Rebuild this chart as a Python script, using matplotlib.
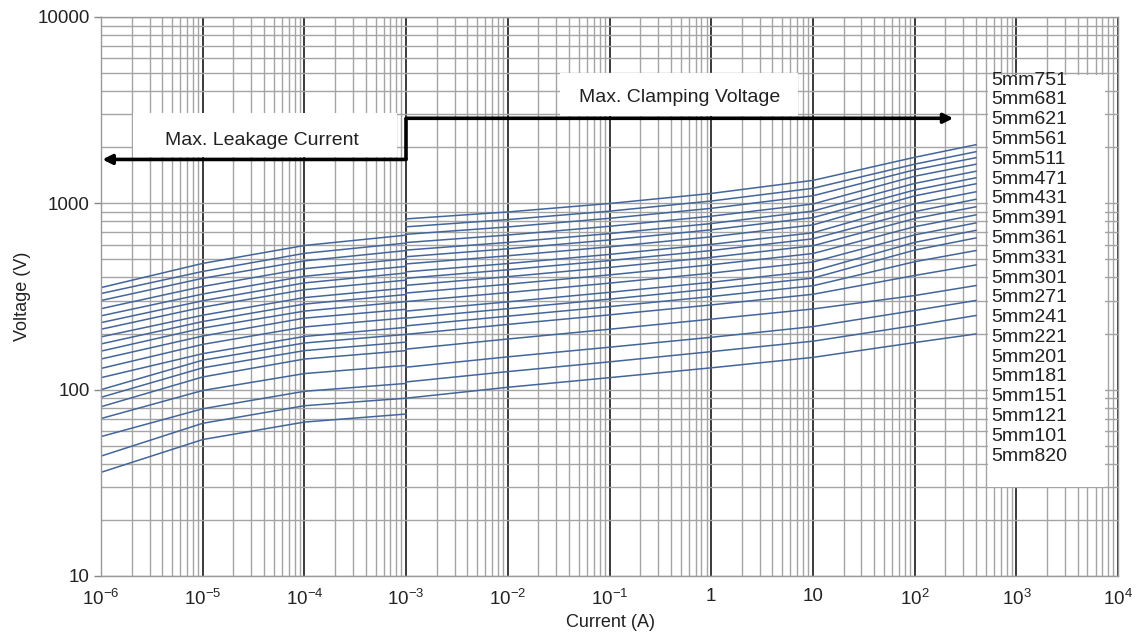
"""
Varistor V-I characteristic curves (5mm series), log-log chart.
"""

import matplotlib
matplotlib.use("Agg")
import matplotlib.pyplot as plt
from matplotlib.patches import Rectangle
from matplotlib.ticker import FixedLocator, LogLocator, NullFormatter

plt.rcParams["font.family"] = ["Liberation Sans", "DejaVu Sans"]

# Part names, bottom curve first
part_names = ["5mm820", "5mm101", "5mm121", "5mm151", "5mm181", "5mm201",
              "5mm221", "5mm241", "5mm271", "5mm301", "5mm331", "5mm361",
              "5mm391", "5mm431", "5mm471", "5mm511", "5mm561", "5mm621",
              "5mm681", "5mm751"]

# Max. leakage current region (A) and voltages (V) per part
leak_current = [1e-6, 1e-5, 1e-4, 1e-3]
leak_voltage = [
    [36, 54, 67, 74],
    [44, 66, 82, 90],
    [56, 79, 98, 108],
    [70, 99, 122, 135],
    [81, 117, 146, 162],
    [91, 131, 162, 180],
    [100, 144, 178, 198],
    [116, 156, 193, 216],
    [130, 175, 217, 243],
    [146, 194, 242, 270],
    [161, 214, 264, 297],
    [176, 232, 288, 324],
    [192, 251, 312, 351],
    [211, 277, 344, 387],
    [229, 300, 374, 423],
    [249, 326, 406, 459],
    [272, 358, 446, 504],
    [301, 396, 491, 558],
    [328, 431, 539, 612],
    [353, 476, 594, 675],
]

# Max. clamping voltage region (A) and voltages (V) per part
clamp_current = [1e-3, 1e-2, 1e-1, 1, 10, 100, 400]
clamp_voltage = [
    [90, 103, 116, 131, 149, 179, 199],
    [110, 125, 141, 160, 182, 221, 250],
    [132, 150, 169, 191, 218, 266, 301],
    [165, 187, 211, 239, 271, 320, 362],
    [198, 224, 252, 285, 325, 410, 467],
    [220, 248, 279, 316, 361, 486, 558],
    [242, 272, 306, 347, 397, 561, 652],
    [264, 296, 333, 377, 433, 617, 716],
    [297, 332, 373, 422, 484, 677, 785],
    [330, 368, 413, 468, 538, 749, 867],
    [363, 404, 453, 513, 592, 828, 958],
    [396, 440, 493, 558, 645, 903, 1051],
    [429, 475, 532, 602, 695, 995, 1153],
    [473, 523, 584, 661, 766, 1097, 1273],
    [517, 570, 636, 721, 838, 1179, 1371],
    [561, 617, 688, 779, 909, 1279, 1486],
    [616, 676, 753, 853, 992, 1398, 1621],
    [682, 747, 831, 940, 1098, 1514, 1757],
    [748, 818, 908, 1029, 1204, 1623, 1892],
    [825, 899, 998, 1130, 1328, 1766, 2063],
]

x_ticks = [1e-6, 1e-5, 1e-4, 1e-3, 1e-2, 1e-1, 1, 10, 1e2, 1e3, 1e4]
x_tick_labels = [r"$\mathregular{10^{-6}}$", r"$\mathregular{10^{-5}}$",
                 r"$\mathregular{10^{-4}}$", r"$\mathregular{10^{-3}}$",
                 r"$\mathregular{10^{-2}}$", r"$\mathregular{10^{-1}}$",
                 "1", "10", r"$\mathregular{10^{2}}$",
                 r"$\mathregular{10^{3}}$", r"$\mathregular{10^{4}}$"]
y_ticks = [10, 100, 1000, 10000]
y_tick_labels = ["10", "100", "1000", "10000"]

# Arrow levels (V) and ends (A)
split_current = 1e-3
leak_arrow_v = 1720
clamp_arrow_v = 2860
clamp_arrow_end = 240

COR_CURVA = "#44659a"
COR_MINOR = "#a4a4a4"
COR_MAJOR = "#3a3a3a"

fig = plt.figure(figsize=(11.43, 6.39), dpi=100, facecolor="white")
ax = fig.add_axes([0.0884, 0.0986, 0.8898, 0.8748])
ax.set_xscale("log")
ax.set_yscale("log")
ax.set_xlim(1e-6, 1e4)
ax.set_ylim(10, 10000)

# Grid
ax.xaxis.set_minor_locator(LogLocator(base=10, subs=range(2, 10), numticks=30))
ax.yaxis.set_minor_locator(LogLocator(base=10, subs=range(2, 10), numticks=30))
ax.xaxis.set_minor_formatter(NullFormatter())
ax.yaxis.set_minor_formatter(NullFormatter())
ax.set_axisbelow(True)
ax.grid(which="minor", color=COR_MINOR, lw=1.0)
ax.grid(which="major", axis="y", color=COR_MINOR, lw=1.0)
ax.grid(which="major", axis="x", color=COR_MAJOR, lw=1.4)

ax.xaxis.set_major_locator(FixedLocator(x_ticks))
ax.set_xticklabels(x_tick_labels, fontsize=13.5)
ax.yaxis.set_major_locator(FixedLocator(y_ticks))
ax.set_yticklabels(y_tick_labels, fontsize=13.5)
ax.tick_params(axis="x", which="both", length=0, pad=9, colors="#222222")
ax.tick_params(axis="y", which="major", length=5, width=1, color="#888888",
               pad=3, labelcolor="#222222")
ax.tick_params(axis="y", which="minor", length=0)
for sp in ax.spines.values():
    sp.set_color("#999999")
    sp.set_linewidth(1.0)

ax.set_xlabel("Current (A)", fontsize=13, color="#222222")
ax.set_ylabel("Voltage (V)", fontsize=13, color="#222222")
ax.xaxis.set_label_coords(0.5005, -0.068)
ax.yaxis.set_label_coords(-0.069, 0.5)

# White boxes hiding the grid
boxes = [(0.0315, 0.7496, 0.2596, 0.0785),
         (0.4513, 0.8230, 0.2341, 0.0768),
         (0.8720, 0.1590, 0.1150, 0.7370)]
for x0, y0, w, h in boxes:
    ax.add_patch(Rectangle((x0, y0), w, h, transform=ax.transAxes,
                           facecolor="white", edgecolor="none", zorder=1.5))

# Curves
for lv, cv in zip(leak_voltage, clamp_voltage):
    ax.plot(leak_current, lv, color=COR_CURVA, lw=1.1, zorder=2)
    ax.plot(clamp_current, cv, color=COR_CURVA, lw=1.1, zorder=2)

# Arrows
arrow_kw = dict(arrowstyle="-|>", color="black", lw=2.6,
                shrinkA=0, shrinkB=0, mutation_scale=14)
ax.annotate("", xy=(1.03e-6, leak_arrow_v), xytext=(split_current, leak_arrow_v),
            arrowprops=arrow_kw, zorder=3)
ax.annotate("", xy=(clamp_arrow_end, clamp_arrow_v),
            xytext=(split_current, clamp_arrow_v), arrowprops=arrow_kw, zorder=3)
ax.plot([split_current, split_current], [leak_arrow_v, clamp_arrow_v],
        color="black", lw=2.6, solid_capstyle="butt", zorder=3)

ax.text(0.158, 0.779, "Max. Leakage Current", transform=ax.transAxes,
        ha="center", va="center", fontsize=14, color="#222222", zorder=4)
ax.text(0.569, 0.856, "Max. Clamping Voltage", transform=ax.transAxes,
        ha="center", va="center", fontsize=14, color="#222222", zorder=4)

# Part list (top to bottom)
for k, name in enumerate(reversed(part_names)):
    ax.text(0.875, 0.887 - k * 0.0354, name, transform=ax.transAxes,
            ha="left", va="center", fontsize=14, color="#222222", zorder=4)

fig.savefig("out.png", dpi=100, facecolor="white")
plt.close(fig)
